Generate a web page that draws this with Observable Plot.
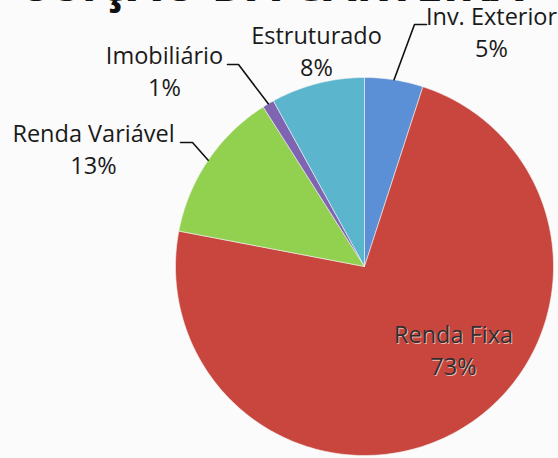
<!DOCTYPE html>
<html>
<head>
<meta charset="utf-8">
<script src="https://cdn.jsdelivr.net/npm/d3@7"></script>
<script src="https://cdn.jsdelivr.net/npm/@observablehq/plot@0.6"></script>
<style>
  html, body { margin: 0; padding: 0; background: #fbfbfb; }
  #chart svg { display: block; }
</style>
</head>
<body>
<div id="chart"></div>
<script>
// ---- data ----
const categories = ["Inv. Exterior", "Renda Fixa", "Renda Variável", "Imobiliário", "Estruturado"];
const shares = [5, 73, 13, 1, 8];
const shareLabels = ["5%", "73%", "13%", "1%", "8%"];
const colors = ["#5b8fd6", "#c8463e", "#92d050", "#7f64b2", "#5bb6cd"];
const titleText = "POSIÇÃO DA CARTEIRA";

// ---- layout (pixels) ----
const W = 558, H = 458;
const CX = 364, CY = 266, R = 189;
// label block centres and elbow points of leaders (null = no leader)
const labelPos = [
  {x: 491, y: 30, elbow: [[426, 24], [414, 24]]},
  {x: 453, y: 348, elbow: null},
  {x: 93, y: 147, elbow: [[180, 142], [192, 142]]},
  {x: 164, y: 69, elbow: [[227, 64], [238, 64]]},
  {x: 316, y: 49, elbow: null}
];

const toU = px => (px - CX) / R;
const toV = py => (CY - py) / R;

// ---- pie geometry from shares ----
const arcs = d3.pie().sort(null).value(d => d)(shares);
const poly = [];
arcs.forEach((a, i) => {
  const cat = categories[i];
  poly.push({cat, u: 0, v: 0});
  const n = Math.max(2, Math.ceil((a.endAngle - a.startAngle) / (2 * Math.PI) * 360));
  for (let k = 0; k <= n; k++) {
    const t = a.startAngle + (a.endAngle - a.startAngle) * k / n;
    poly.push({cat, u: Math.sin(t), v: Math.cos(t)});
  }
  poly.push({cat, u: 0, v: 0});
});

const labels = categories.map((c, i) => ({
  text: c + "\n" + shareLabels[i],
  u: toU(labelPos[i].x), v: toV(labelPos[i].y), inside: i === 1
}));

const leaders = [];
arcs.forEach((a, i) => {
  const e = labelPos[i].elbow;
  if (!e) return;
  const m = (a.startAngle + a.endAngle) / 2;
  e.forEach(p => leaders.push({cat: categories[i], u: toU(p[0]), v: toV(p[1])}));
  leaders.push({cat: categories[i], u: Math.sin(m), v: Math.cos(m)});
});

const font = "'Open Sans', 'Noto Sans', sans-serif";
const fs = 23.5, lh = 1.38;

const chart = Plot.plot({
  width: W, height: H,
  margin: 0,
  style: {background: "#fbfbfb", fontFamily: font},
  x: {domain: [toU(0), toU(W)], axis: null},
  y: {domain: [toV(H), toV(0)], axis: null},
  color: {domain: categories, range: colors},
  marks: [
    Plot.text([titleText], {frameAnchor: "top-left", text: d => d, fontSize: 48, fontWeight: "bold", fill: "#111", textAnchor: "start", lineAnchor: "top", dx: -14, dy: -34}),
    Plot.line(poly, {x: "u", y: "v", z: "cat", fill: "cat", stroke: "#f4f4f4", strokeWidth: 0.6, curve: "linear"}),
    Plot.line(leaders, {x: "u", y: "v", z: "cat", stroke: "#111", strokeWidth: 1.6, curve: "linear"}),
    Plot.text(labels.filter(d => !d.inside), {x: "u", y: "v", text: "text", fontSize: fs, lineHeight: lh, fill: "#1a1a1a", textAnchor: "middle"}),
    Plot.text(labels.filter(d => d.inside), {x: "u", y: "v", text: "text", fontSize: fs, lineHeight: lh, fill: "#efb7b1", dx: 1, dy: 1, textAnchor: "middle"}),
    Plot.text(labels.filter(d => d.inside), {x: "u", y: "v", text: "text", fontSize: fs, lineHeight: lh, fill: "#2e2e2e", textAnchor: "middle"})
  ]
});
document.getElementById("chart").appendChild(chart);
</script>
</body>
</html>
